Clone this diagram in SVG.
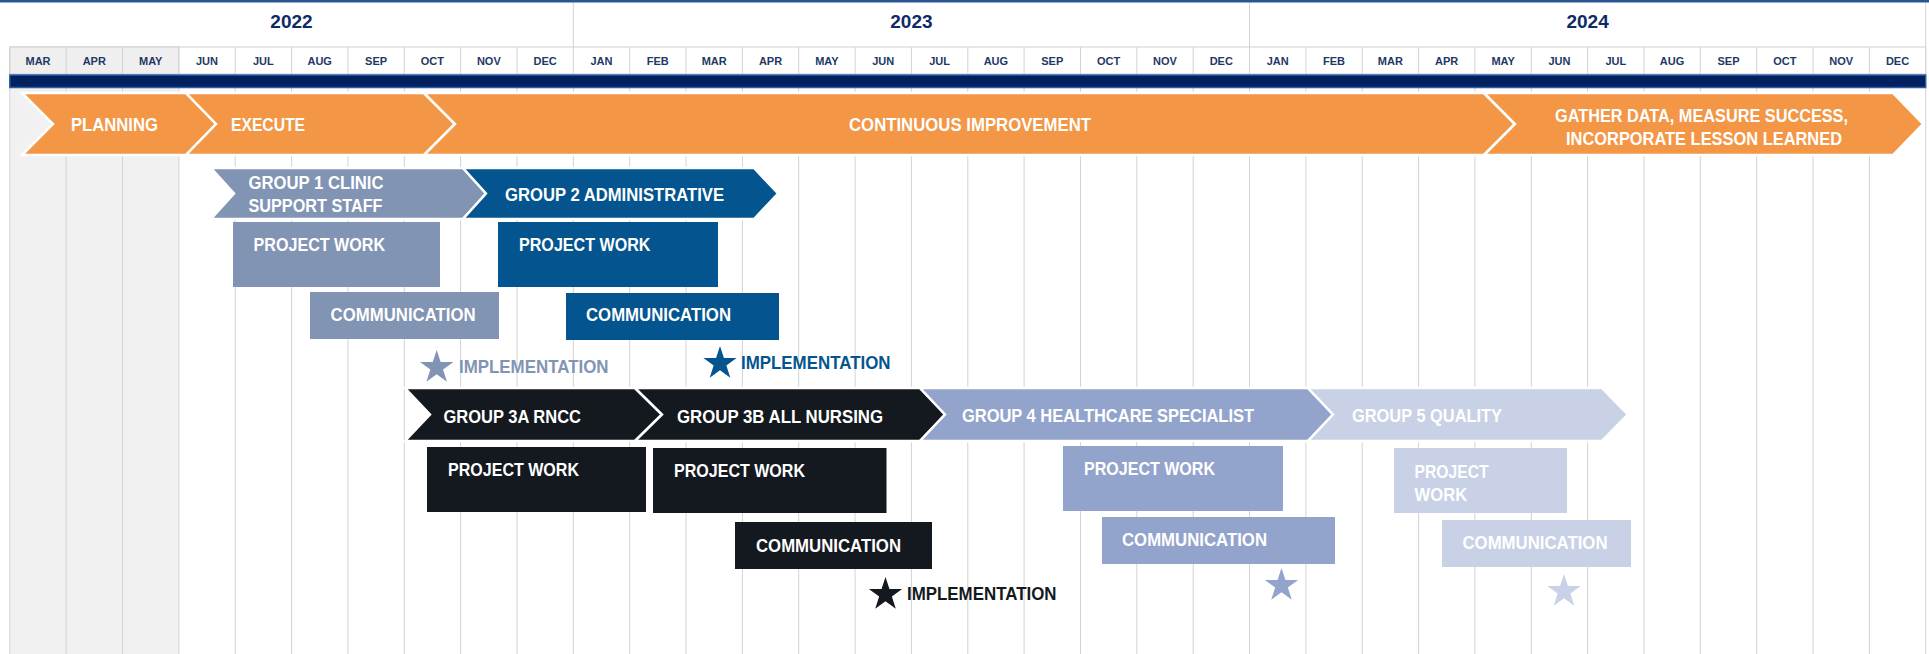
<svg xmlns="http://www.w3.org/2000/svg" width="1929" height="654" viewBox="0 0 1929 654">
<style>
.t{font-family:"Liberation Sans Narrow","Liberation Sans",Arial,sans-serif;font-weight:bold;font-size:18.5px;fill:#fff}
.m{font-family:"Liberation Sans Narrow","Liberation Sans",Arial,sans-serif;font-weight:bold;font-size:11px;fill:#1f3864;text-anchor:middle}
.y{font-family:"Liberation Sans",Arial,sans-serif;font-weight:bold;font-size:19px;fill:#0e2b66;text-anchor:middle}
.g{stroke:#d3d3d3;stroke-width:1}
.ch{stroke:#fff;stroke-width:2.5;stroke-linejoin:miter}
.or{fill:#f39645}.c1{fill:#8194b4}.c2{fill:#04558f}.c3{fill:#141920}.c4{fill:#93a4cc}.c5{fill:#c8d1e6}
</style>
<defs>
<path id="star" d="M0,-17.5 L3.94,-5.42 L16.64,-5.41 L6.37,2.07 L10.29,14.16 L0,6.7 L-10.29,14.16 L-6.37,2.07 L-16.64,-5.41 L-3.94,-5.42 Z"/>
</defs>
<rect width="1929" height="654" fill="#fff"/>
<g id="timeline">
<rect x="0" y="0" width="1929" height="2.5" fill="#2a5592"/>
<rect x="9.8" y="88" width="169.1" height="566" fill="#f1f1f1"/>
<rect x="9.8" y="47" width="1915.9" height="27" fill="#fff" stroke="#d0d0d0"/>
<rect x="9.8" y="47" width="169.1" height="27" fill="#efefef" stroke="#d0d0d0"/>
<line class="g" x1="573.3" y1="3" x2="573.3" y2="47"/>
<line class="g" x1="1249.5" y1="3" x2="1249.5" y2="47"/>
<line class="g" x1="1925.7" y1="3" x2="1925.7" y2="47"/>
<g class="g">
<line x1="9.8" y1="47" x2="9.8" y2="654"/><line x1="66.2" y1="47" x2="66.2" y2="654"/><line x1="122.5" y1="47" x2="122.5" y2="654"/><line x1="178.9" y1="47" x2="178.9" y2="654"/><line x1="235.2" y1="47" x2="235.2" y2="654"/><line x1="291.6" y1="47" x2="291.6" y2="654"/><line x1="347.9" y1="47" x2="347.9" y2="654"/><line x1="404.3" y1="47" x2="404.3" y2="654"/><line x1="460.6" y1="47" x2="460.6" y2="654"/><line x1="517" y1="47" x2="517" y2="654"/><line x1="573.3" y1="47" x2="573.3" y2="654"/><line x1="629.7" y1="47" x2="629.7" y2="654"/><line x1="686" y1="47" x2="686" y2="654"/><line x1="742.4" y1="47" x2="742.4" y2="654"/><line x1="798.7" y1="47" x2="798.7" y2="654"/><line x1="855.1" y1="47" x2="855.1" y2="654"/><line x1="911.4" y1="47" x2="911.4" y2="654"/><line x1="967.8" y1="47" x2="967.8" y2="654"/><line x1="1024.1" y1="47" x2="1024.1" y2="654"/><line x1="1080.5" y1="47" x2="1080.5" y2="654"/><line x1="1136.8" y1="47" x2="1136.8" y2="654"/><line x1="1193.2" y1="47" x2="1193.2" y2="654"/><line x1="1249.5" y1="47" x2="1249.5" y2="654"/><line x1="1305.9" y1="47" x2="1305.9" y2="654"/><line x1="1362.2" y1="47" x2="1362.2" y2="654"/><line x1="1418.6" y1="47" x2="1418.6" y2="654"/><line x1="1474.9" y1="47" x2="1474.9" y2="654"/><line x1="1531.3" y1="47" x2="1531.3" y2="654"/><line x1="1587.6" y1="47" x2="1587.6" y2="654"/><line x1="1644" y1="47" x2="1644" y2="654"/><line x1="1700.3" y1="47" x2="1700.3" y2="654"/><line x1="1756.7" y1="47" x2="1756.7" y2="654"/><line x1="1813" y1="47" x2="1813" y2="654"/><line x1="1869.4" y1="47" x2="1869.4" y2="654"/><line x1="1925.7" y1="47" x2="1925.7" y2="654"/>
</g>
<text class="y" x="291.5" y="28">2022</text>
<text class="y" x="911.4" y="28">2023</text>
<text class="y" x="1587.6" y="28">2024</text>
<g>
<text class="m" x="38" y="65">MAR</text><text class="m" x="94.3" y="65">APR</text><text class="m" x="150.7" y="65">MAY</text><text class="m" x="207" y="65">JUN</text><text class="m" x="263.4" y="65">JUL</text><text class="m" x="319.7" y="65">AUG</text><text class="m" x="376.1" y="65">SEP</text><text class="m" x="432.4" y="65">OCT</text><text class="m" x="488.8" y="65">NOV</text><text class="m" x="545.1" y="65">DEC</text>
<text class="m" x="601.5" y="65">JAN</text><text class="m" x="657.8" y="65">FEB</text><text class="m" x="714.2" y="65">MAR</text><text class="m" x="770.5" y="65">APR</text><text class="m" x="826.9" y="65">MAY</text><text class="m" x="883.2" y="65">JUN</text><text class="m" x="939.6" y="65">JUL</text><text class="m" x="995.9" y="65">AUG</text><text class="m" x="1052.3" y="65">SEP</text><text class="m" x="1108.6" y="65">OCT</text><text class="m" x="1165" y="65">NOV</text><text class="m" x="1221.3" y="65">DEC</text>
<text class="m" x="1277.7" y="65">JAN</text><text class="m" x="1334" y="65">FEB</text><text class="m" x="1390.4" y="65">MAR</text><text class="m" x="1446.7" y="65">APR</text><text class="m" x="1503.1" y="65">MAY</text><text class="m" x="1559.4" y="65">JUN</text><text class="m" x="1615.8" y="65">JUL</text><text class="m" x="1672.1" y="65">AUG</text><text class="m" x="1728.5" y="65">SEP</text><text class="m" x="1784.8" y="65">OCT</text><text class="m" x="1841.2" y="65">NOV</text><text class="m" x="1897.5" y="65">DEC</text>
</g>
<rect x="9.8" y="75" width="1915.9" height="12.5" fill="#002060" stroke="#2d5e9e" stroke-width="1.5"/>
</g>
<g id="planning">
<polygon class="ch or" points="22,93 186,93 216,124 186,155 22,155 53,124"/>
<text class="t" x="71" y="131" textLength="87" lengthAdjust="spacingAndGlyphs">PLANNING</text>
</g>
<g id="execute">
<polygon class="ch or" points="186,93 424,93 455,124 424,155 186,155 216,124"/>
<text class="t" x="231" y="131" textLength="74" lengthAdjust="spacingAndGlyphs">EXECUTE</text>
</g>
<g id="continuous-improvement">
<polygon class="ch or" points="424,93 1484,93 1515,124 1484,155 424,155 455,124"/>
<text class="t" x="849" y="131" textLength="242" lengthAdjust="spacingAndGlyphs">CONTINUOUS IMPROVEMENT</text>
</g>
<g id="gather-data">
<polygon class="ch or" points="1484,93 1893,93 1923,124 1893,155 1484,155 1515,124"/>
<text class="t" x="1555" y="122" textLength="293" lengthAdjust="spacingAndGlyphs">GATHER DATA, MEASURE SUCCESS,</text>
<text class="t" x="1566" y="144.5" textLength="276" lengthAdjust="spacingAndGlyphs">INCORPORATE LESSON LEARNED</text>
</g>
<g id="group1">
<polygon class="ch c1" points="211,168 463,168 486,193.5 463,219 211,219 234,193.5"/>
<text class="t" x="248.5" y="188.5" textLength="135" lengthAdjust="spacingAndGlyphs">GROUP 1 CLINIC</text>
<text class="t" x="248.5" y="212" textLength="134" lengthAdjust="spacingAndGlyphs">SUPPORT STAFF</text>
</g>
<g id="group2">
<polygon class="ch c2" points="463,168 754,168 778,193.5 754,219 463,219 486,193.5"/>
<text class="t" x="505" y="201" textLength="219" lengthAdjust="spacingAndGlyphs">GROUP 2 ADMINISTRATIVE</text>
</g>
<g id="group1-project-work">
<rect class="c1" x="233" y="222" width="207" height="65"/>
<text class="t" x="253.6" y="251" textLength="131.5" lengthAdjust="spacingAndGlyphs">PROJECT WORK</text>
</g>
<g id="group2-project-work">
<rect class="c2" x="498" y="222" width="220" height="65"/>
<text class="t" x="519" y="251" textLength="131.5" lengthAdjust="spacingAndGlyphs">PROJECT WORK</text>
</g>
<g id="group1-communication">
<rect class="c1" x="310" y="292" width="189" height="47"/>
<text class="t" x="330.6" y="321" textLength="145" lengthAdjust="spacingAndGlyphs">COMMUNICATION</text>
</g>
<g id="group2-communication">
<rect class="c2" x="566" y="293" width="213" height="47"/>
<text class="t" x="586" y="321" textLength="145" lengthAdjust="spacingAndGlyphs">COMMUNICATION</text>
</g>
<g id="group1-implementation">
<use href="#star" x="436.7" y="367.5" fill="#8194b4"/>
<text class="t" x="459" y="373" style="fill:#8194b4" textLength="149.5" lengthAdjust="spacingAndGlyphs">IMPLEMENTATION</text>
</g>
<g id="group2-implementation">
<use href="#star" x="720" y="363.5" fill="#04558f"/>
<text class="t" x="741" y="369" style="fill:#04558f" textLength="149.5" lengthAdjust="spacingAndGlyphs">IMPLEMENTATION</text>
</g>
<g id="group3a">
<polygon class="ch c3" points="405,388 635,388 662,414.5 635,441 405,441 430,414.5"/>
<text class="t" x="443.5" y="422.5" textLength="137.5" lengthAdjust="spacingAndGlyphs">GROUP 3A RNCC</text>
</g>
<g id="group3b">
<polygon class="ch c3" points="635,388 920,388 945,414.5 920,441 635,441 662,414.5"/>
<text class="t" x="677" y="422.5" textLength="206" lengthAdjust="spacingAndGlyphs">GROUP 3B ALL NURSING</text>
</g>
<g id="group4">
<polygon class="ch c4" points="920,388 1308,388 1333,414.5 1308,441 920,441 945,414.5"/>
<text class="t" x="962" y="421.5" textLength="292" lengthAdjust="spacingAndGlyphs">GROUP 4 HEALTHCARE SPECIALIST</text>
</g>
<g id="group5">
<polygon class="ch c5" points="1308,388 1602,388 1628,414.5 1602,441 1308,441 1333,414.5"/>
<text class="t" x="1352" y="422" textLength="150" lengthAdjust="spacingAndGlyphs">GROUP 5 QUALITY</text>
</g>
<g id="group3a-project-work">
<rect class="c3" x="427" y="447" width="219" height="65"/>
<text class="t" x="448" y="476" textLength="131" lengthAdjust="spacingAndGlyphs">PROJECT WORK</text>
</g>
<g id="group3b-project-work">
<rect class="c3" x="653" y="448" width="233.5" height="65"/>
<text class="t" x="674" y="477" textLength="131" lengthAdjust="spacingAndGlyphs">PROJECT WORK</text>
</g>
<g id="group4-project-work">
<rect class="c4" x="1063" y="446" width="220" height="65"/>
<text class="t" x="1084" y="475" textLength="131" lengthAdjust="spacingAndGlyphs">PROJECT WORK</text>
</g>
<g id="group5-project-work">
<rect class="c5" x="1394" y="448" width="173" height="65"/>
<text class="t" x="1414.6" y="478" textLength="74" lengthAdjust="spacingAndGlyphs">PROJECT</text>
<text class="t" x="1414.6" y="501" textLength="52.6" lengthAdjust="spacingAndGlyphs">WORK</text>
</g>
<g id="group3b-communication">
<rect class="c3" x="735" y="522" width="197" height="47"/>
<text class="t" x="756" y="552" textLength="145" lengthAdjust="spacingAndGlyphs">COMMUNICATION</text>
</g>
<g id="group4-communication">
<rect class="c4" x="1102" y="517" width="233" height="47"/>
<text class="t" x="1122" y="546" textLength="145" lengthAdjust="spacingAndGlyphs">COMMUNICATION</text>
</g>
<g id="group5-communication">
<rect class="c5" x="1442" y="520" width="189" height="47"/>
<text class="t" x="1462.5" y="549" textLength="145" lengthAdjust="spacingAndGlyphs">COMMUNICATION</text>
</g>
<g id="group3-implementation">
<use href="#star" x="885.5" y="594.5" fill="#141920"/>
<text class="t" x="907" y="600" style="fill:#141920" textLength="149.5" lengthAdjust="spacingAndGlyphs">IMPLEMENTATION</text>
</g>
<g id="group4-implementation">
<use href="#star" x="1281.5" y="585.5" fill="#93a4cc"/>
</g>
<g id="group5-implementation">
<use href="#star" x="1564" y="591.5" fill="#c8d1e6"/>
</g>
<g id="connectors"/>
</svg>
